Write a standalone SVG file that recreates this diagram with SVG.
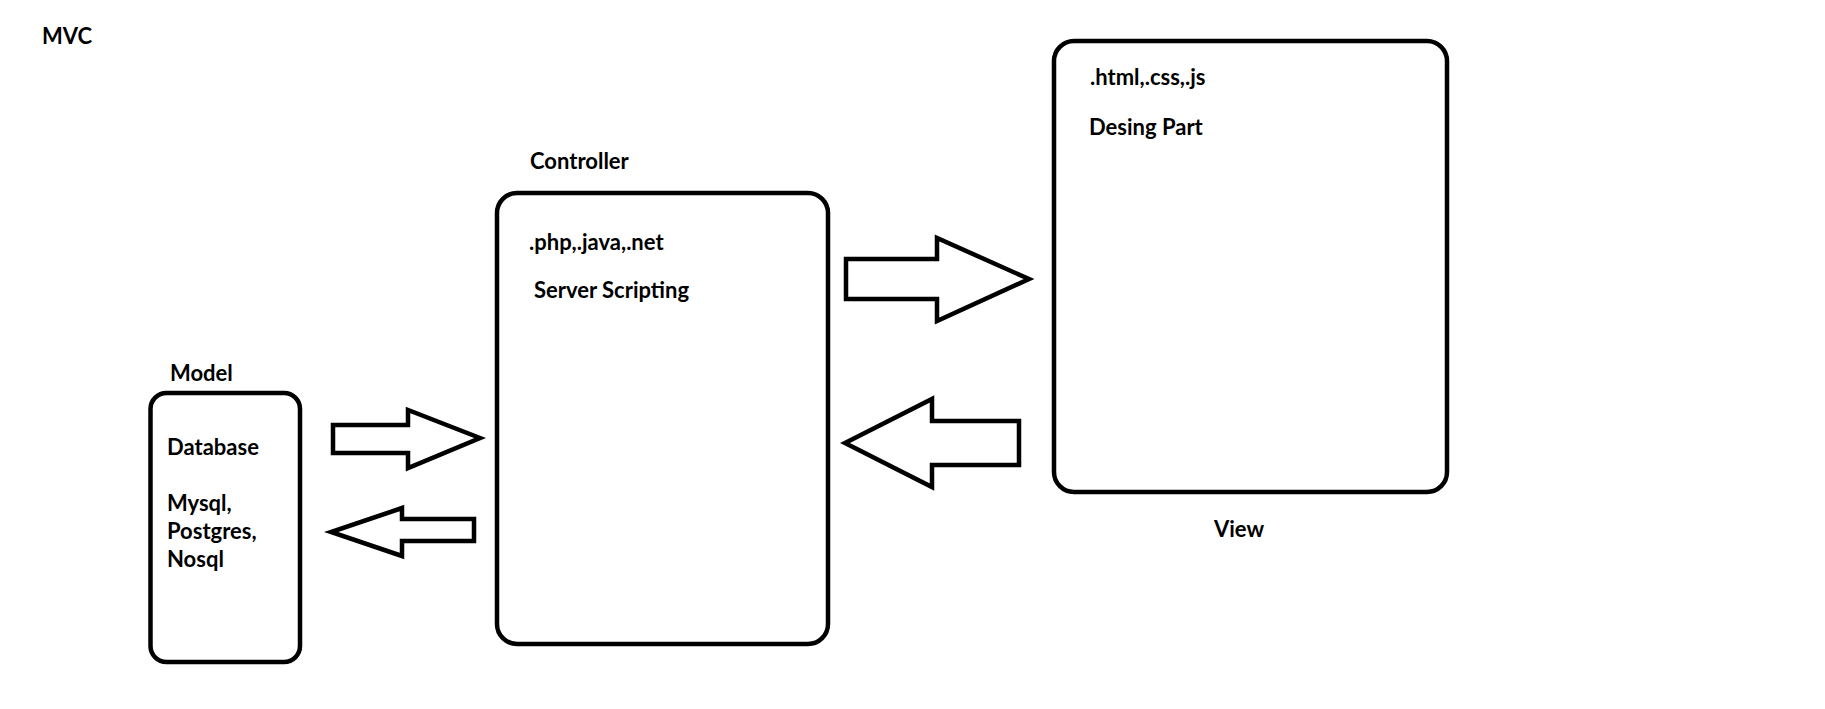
<svg xmlns="http://www.w3.org/2000/svg" width="1825" height="709" viewBox="0 0 1825 709">
<style>
.box{fill:#fff;stroke:#000;stroke-width:4.5}
.arr{fill:#fff;stroke:#000;stroke-width:4.5;stroke-linejoin:miter}
text{font-family:Lato,"Open Sans","Liberation Sans",sans-serif;font-weight:bold;font-size:22px;fill:#000}
</style>
<rect width="1825" height="709" fill="#fff"/>
<text id="title" x="42" y="44">MVC</text>
<g id="model">
<rect class="box" x="150.5" y="393" width="149.5" height="269" rx="16"/>
<text x="170" y="381">Model</text>
<text x="167" y="455">Database</text>
<text x="167" y="511">Mysql,</text>
<text x="167" y="539">Postgres,</text>
<text x="167" y="567">Nosql</text>
</g>
<g id="controller">
<rect class="box" x="497" y="193" width="331" height="451" rx="20"/>
<text x="530" y="169">Controller</text>
<text x="529" y="250">.php,.java,.net</text>
<text x="534" y="298">Server Scripting</text>
</g>
<g id="view">
<rect class="box" x="1054" y="41" width="393" height="451" rx="20"/>
<text x="1090" y="85">.html,.css,.js</text>
<text x="1089" y="135">Desing Part</text>
<text x="1214" y="537">View</text>
</g>
<g id="connectors">
<polygon class="arr" points="333,425 408,425 408,410 480,438 408,468 408,453 333,453"/>
<polygon class="arr" points="474,519 402,519 402,508 331,532 402,556 402,541 474,541"/>
<polygon class="arr" points="846,259 937,259 937,238 1029,279 937,321 937,299 846,299"/>
<polygon class="arr" points="1019,421 932,421 932,399 845,443 932,487 932,465 1019,465"/>
</g>
</svg>
